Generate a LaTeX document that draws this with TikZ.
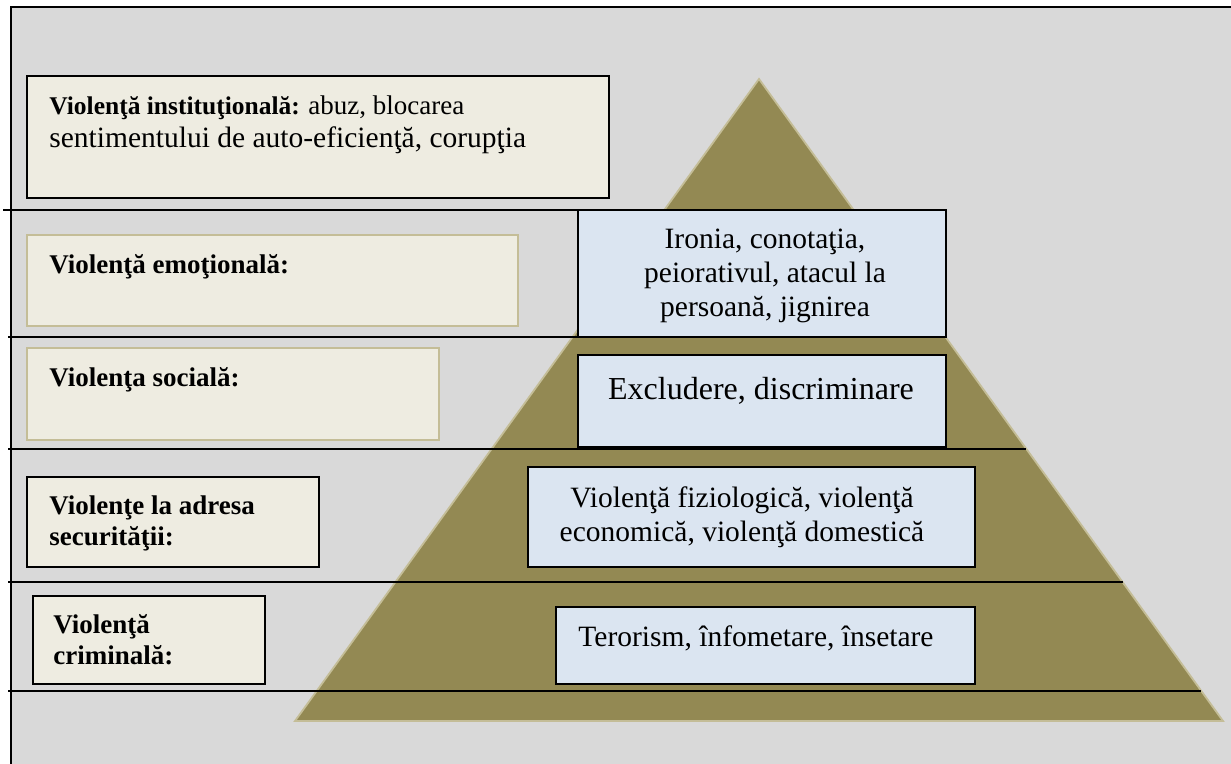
\documentclass[tikz,border=0pt]{standalone}
\usepackage{fontspec}
\setmainfont{Liberation Serif}
\usepackage{tikz}
\usetikzlibrary{fit,calc}

\definecolor{panelgray}{HTML}{D9D9D9}
\definecolor{pyrolive}{HTML}{938953}
\definecolor{pyredge}{HTML}{C4BD97}
\definecolor{tanfill}{HTML}{EEECE1}
\definecolor{bluefill}{HTML}{DBE5F1}

\begin{document}
\begin{tikzpicture}[x=0.5pt,y=-0.5pt,
		lbox/.style={draw=black, line width=1.1pt, fill=tanfill, inner sep=0pt},
		lboxpale/.style={lbox, draw=pyredge, line width=1.2pt},
		rbox/.style={draw=black, line width=1.1pt, fill=bluefill, inner sep=0pt},
		lbl/.style={anchor=north west, align=left, inner sep=0pt, font=\fontsize{13.5}{15.5}\selectfont\bfseries},
		rtxt/.style={anchor=north, align=center, inner sep=0pt, font=\fontsize{14.75}{17}\selectfont},
		level/.style={draw=black, line width=1pt}
		]
		\useasboundingbox (0,0) rectangle (1231,764);
		
		% Fundalul
		\fill[panelgray] (11,7) rectangle (1231,764);
		\draw[line width=1pt] (11,764) -- (11,7) -- (1231,7);
		
		% Piramida
		\coordinate (apex) at (759,79);
		\coordinate (baseR) at (1223,721);
		\coordinate (baseL) at (295,721);
		\filldraw[fill=pyrolive, draw=pyredge, line width=0.9pt] (apex) -- (baseR) -- (baseL) -- cycle;
		
		% Nivelurile
		\foreach \xl/\yy in {3/210, 8/337, 8/449, 8/582, 8/691} {
			\pgfmathsetmacro\xr{759+464/642*(\yy-79)}
			\draw[level] (\xl,\yy) -- (\xr,\yy);
		}
		
		% Casetele din stanga
		\node[lbox, fit={(27,76) (609,198)}] (inst) {};
		\node[lboxpale, fit={(27,235) (518,326)}] (emo) {};
		\node[lboxpale, fit={(27,348) (439,440)}] (soc) {};
		\node[lbox, fit={(27,477) (319,567)}] (sec) {};
		\node[lbox, fit={(33,596) (265,684)}] (crim) {};
		
		% Casetele din piramida
		\node[rbox, fit={(578,210) (946,337)}] (iron) {};
		\node[rbox, fit={(578,355) (946,447)}] (excl) {};
		\node[rbox, fit={(528,467) (975,567)}] (fizi) {};
		\node[rbox, fit={(556,607) (975,684)}] (tero) {};
		
		% Textele
		\node[lbl, font=\fontsize{12.75}{16.5}\selectfont\bfseries] (instT) at (49,95)
			{Violenţă instituţională: {\mdseries\fontsize{13.5}{16.5}\selectfont abuz, blocarea}\\
			 \mdseries\fontsize{14.75}{16.5}\selectfont sentimentului de auto-eficienţă, corupţia};
		\node[lbl] (emoT) at (49,254) {Violenţă emoţională:};
		\node[lbl] (socT) at (49,367) {Violenţa socială:};
		\node[lbl] (secT) at (49,495) {Violenţe la adresa\\securităţii:};
		\node[lbl] (crimT) at (53,614) {Violenţă\\criminală:};
		
		\node[rtxt] (ironT) at (765,229) {Ironia, conotaţia,\\peiorativul, atacul la\\persoană, jignirea};
		\node[rtxt, font=\fontsize{16}{18}\selectfont] (exclT) at (761,377) {Excludere, discriminare};
		\node[rtxt] (fiziT) at (742,486) {Violenţă fiziologică, violenţă\\economică, violenţă domestică};
		\node[rtxt] (teroT) at (756,625) {Terorism, înfometare, însetare};
	\end{tikzpicture}
\end{document}
